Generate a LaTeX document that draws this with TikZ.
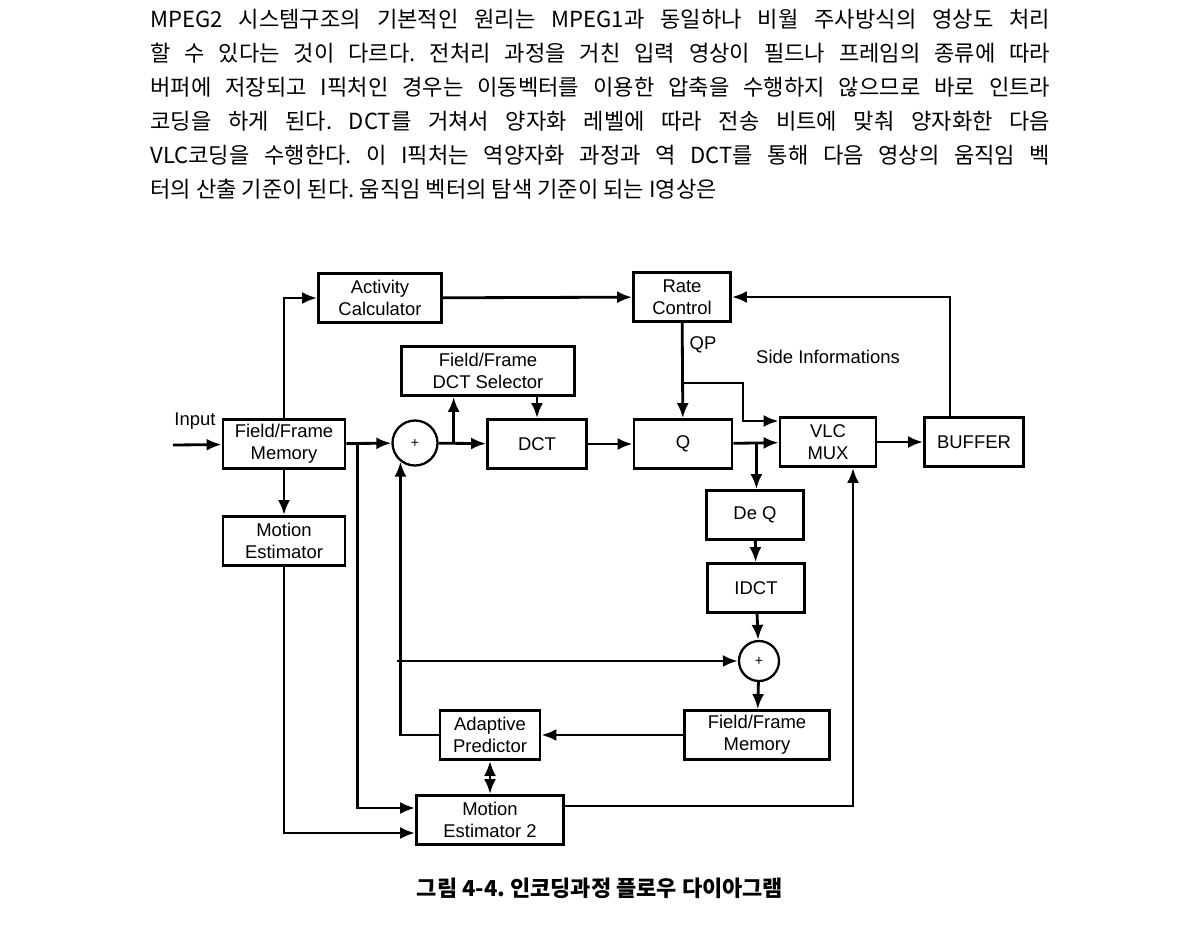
\documentclass[tikz,border=0pt]{standalone}
\usepackage{fontspec}
\setmainfont{Liberation Sans}
\newfontfamily\krfont{Noto Sans CJK KR}
\usetikzlibrary{arrows.meta, positioning, calc}
\tikzset{
    blk/.style={rectangle, draw, line width=1.6pt, minimum height=0.98cm, align=center,
                font=\fontsize{10.5}{12.5}\selectfont, inner sep=1pt},
    sumnode/.style={circle, draw, line width=1.3pt, minimum size=0.9cm, inner sep=0pt,
                    font=\footnotesize},
    arrow/.style={-{Latex[length=3mm, width=2.4mm]}, line width=1.6pt},
}
\begin{document}
\frenchspacing
\begin{tikzpicture}[x=0.02cm, y=-0.02cm]
            \useasboundingbox (0,0) rectangle (1200,933);
            % text above the figure
            \node[anchor=north west, text width=18cm, align=justify, inner sep=0pt,
                  font=\krfont\fontsize{12.6}{19.3}\selectfont\frenchspacing] (para) at (150,9)
            {MPEG2 시스템구조의 기본적인 원리는 MPEG1과 동일하나 비월 주사방식의 영상도 처리\linebreak
            할 수 있다는 것이 다르다. 전처리 과정을 거친 입력 영상이 필드나 프레임의 종류에 따라\linebreak
            버퍼에 저장되고 I픽처인 경우는 이동벡터를 이용한 압축을 수행하지 않으므로 바로 인트라\linebreak
            코딩을 하게 된다. DCT를 거쳐서 양자화 레벨에 따라 전송 비트에 맞춰 양자화한 다음\linebreak
            VLC코딩을 수행한다. 이 I픽처는 역양자화 과정과 역 DCT를 통해 다음 영상의 움직임 벡\linebreak
            터의 산출 기준이 된다. 움직임 벡터의 탐색 기준이 되는 I영상은};

            % blocks
            \node[blk, minimum width=2.46cm] (act) at (380,298) {Activity\\Calculator};
            \node[blk, minimum width=1.94cm] (rate) at (682,297) {Rate\\Control};
            \node[blk, minimum width=3.46cm] (sel) at (488,371) {Field/Frame\\DCT Selector};
            \node[blk, minimum width=2.44cm] (mem) at (284,444) {Field/Frame\\Memory};
            \node[sumnode] (sum1) at (415,443) {+};
            \node[blk, minimum width=1.98cm] (dct) at (537,444) {DCT};
            \node[blk, minimum width=1.96cm] (q) at (683,444) {Q\vphantom{/}};
            \node[blk, minimum width=1.92cm] (vlc) at (828,442) {VLC\\MUX};
            \node[blk, minimum width=1.98cm] (buf) at (974,442) {BUFFER};
            \node[blk, minimum width=2.44cm] (me) at (284,541) {Motion\\Estimator};
            \node[blk, minimum width=1.94cm] (deq) at (755,515) {De Q};
            \node[blk, minimum width=1.94cm] (idct) at (756,588) {IDCT};
            \node[sumnode, minimum size=0.8cm] (sum2) at (759,661) {+};
            \node[blk, minimum width=2.9cm] (mem2) at (757,735) {Field/Frame\\Memory};
            \node[blk, minimum width=2cm] (pred) at (490,735) {Adaptive\\Predictor};
            \node[blk, minimum width=2.94cm] (me2) at (490,820) {Motion\\Estimator 2};

            \node[font=\fontsize{10.5}{12}\selectfont] (inlbl) at (195,421) {Input};
            \node[font=\fontsize{10.5}{12}\selectfont] (qplbl) at (703,345) {QP};
            \node[font=\fontsize{10.5}{12}\selectfont] (side) at (828,357) {Side Informations};
            \coordinate (in) at (173,445);

            % connections
            \draw[arrow] (in) -- (mem);
            \draw[arrow] (mem.north) |- (act);
            \draw[arrow] (act) -- (rate);
            \draw[arrow] (mem) -- (sum1);
            \draw[arrow] ($(mem.east)+(11,0)$) |- ($(me2.west)+(0,-12)$);
            \draw[arrow] (mem) -- (me);
            \draw[arrow] (me.south) |- ($(me2.west)+(0,13)$);
            \draw[arrow] (sum1) -- (dct);
            \draw[arrow] ($(sum1.east)+(15,0)$) -- (sel.south -| {$(sum1.east)+(15,0)$});
            \draw[arrow] (sel.south -| dct) -- (dct);
            \draw[arrow] (dct) -- (q);
            \draw[arrow] (q) -- (vlc);
            \draw[arrow] ($(q.east)+(23,0)$) -- (deq.north -| {$(q.east)+(23,0)$});
            \draw[arrow] (rate) -- (q);
            \draw[arrow] (683,383) -| (743,421) -- (vlc.west |- 0,421);
            \draw[arrow] (vlc) -- (buf);
            \draw[arrow] (buf.north -| 950,0) |- (rate.east);
            \draw[arrow] (deq) -- (idct);
            \draw[arrow] (idct) -- (sum2);
            \draw[arrow] (sum2) -- (mem2);
            \draw[arrow] (mem2) -- (pred);
            \draw[arrow] (pred.west) -| (sum1.-128);
            \draw[arrow] (397,661) -- (sum2);
            \draw[{Latex[length=3mm, width=2.4mm]}-{Latex[length=3mm, width=2.4mm]}, line width=1.6pt] (pred) -- (me2);
            \draw[arrow] ($(me2.east)+(0,-14)$) -| (vlc.south -| 853,0);

            % caption
            \node[font=\krfont\bfseries\fontsize{12.5}{15}\selectfont] (cap) at (600,888)
            {그림 4-4. 인코딩과정 플로우 다이아그램};
\end{tikzpicture}
\end{document}
